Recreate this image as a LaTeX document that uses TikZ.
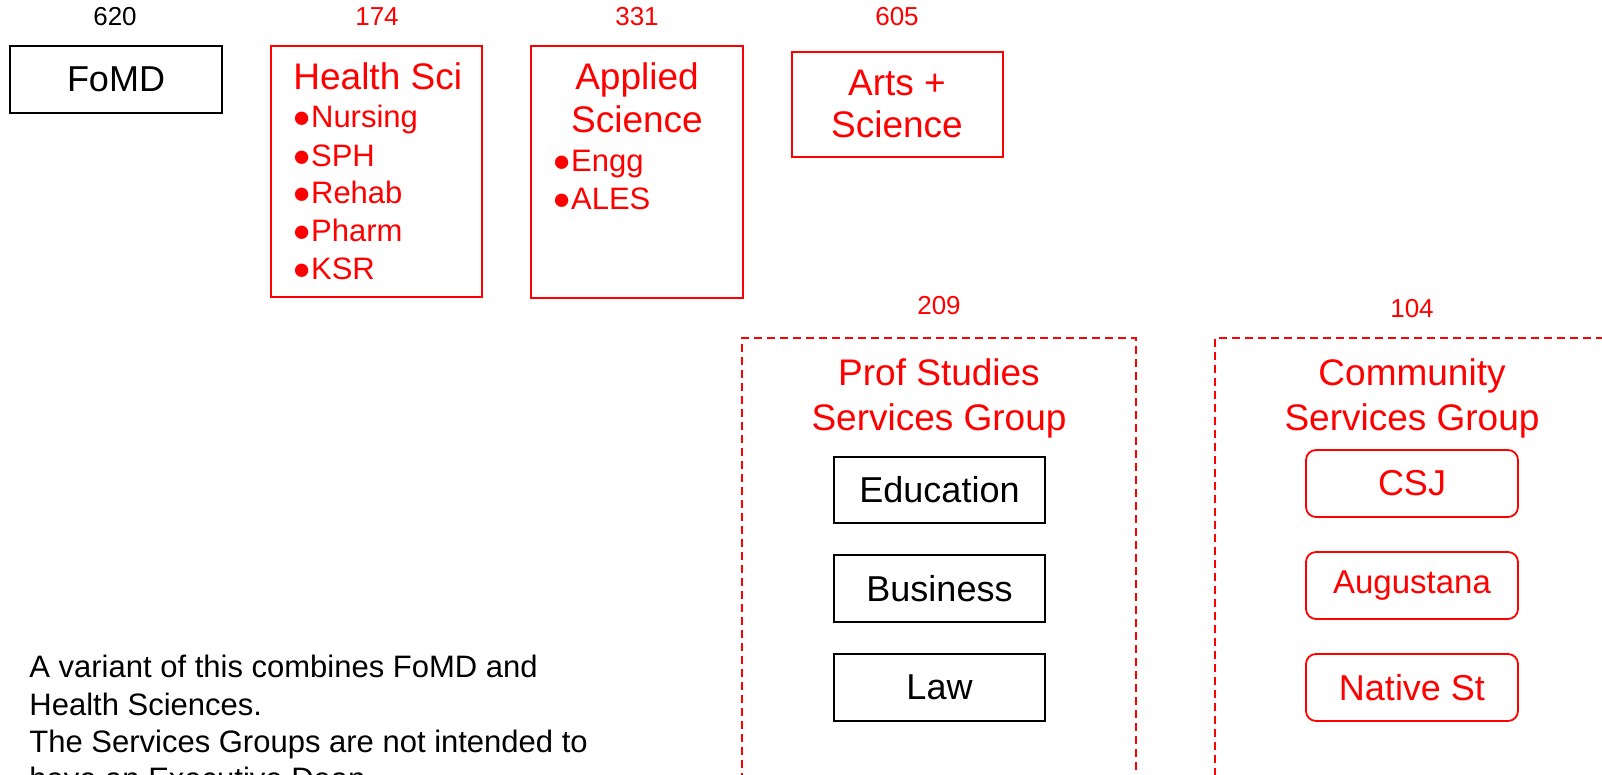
\documentclass[tikz,border=0pt]{standalone}
\usepackage{fontspec}
\setmainfont{Liberation Sans}
\begin{document}
\begin{tikzpicture}[x=0.5pt,y=-0.5pt,
  box/.style={draw=black, line width=0.8pt, inner sep=0pt, outer sep=0pt, text=black, font=\fontsize{18}{20}\selectfont},
  redbox/.style={box, draw=red, line width=0.9pt, text=red},
  roundbox/.style={redbox, rounded corners=5pt},
  group/.style={draw=red, line width=0.9pt, dash pattern=on 4pt off 2.5pt, inner sep=0pt},
  num/.style={anchor=base, inner sep=0pt, font=\fontsize{13}{15}\selectfont},
  head/.style={anchor=base, inner sep=0pt, text=red, font=\fontsize{18.5}{20}\selectfont},
  item/.style={anchor=base west, inner sep=0pt, text=red, font=\fontsize{15.5}{18}\selectfont},
  note/.style={anchor=base west, inner sep=0pt, text=black, font=\fontsize{15.5}{18}\selectfont}]
\useasboundingbox (0,0) rectangle (1602,775);
\clip (0,0) rectangle (1602,775);

% numbers
\node[num] (n620) at (115,26) {620};
\node[num, text=red] (n174) at (377,26) {174};
\node[num, text=red] (n331) at (637,26) {331};
\node[num, text=red] (n605) at (897,26) {605};
\node[num, text=red] (n209) at (939,315) {209};
\node[num, text=red] (n104) at (1412,318) {104};

% top row
\node[box, minimum width=106pt, minimum height=33.5pt] (fomd) at (116,79.5) {FoMD};

\node[redbox, minimum width=105.5pt, minimum height=125.5pt] (hs) at (376.5,171.5) {};
\node[head, anchor=base west] (hsT) at (293,90) {Health Sci};
\node[item] (hs1) at (292,128) {●Nursing};
\node[item] (hs2) at (292,166.5) {●SPH};
\node[item] (hs3) at (292,204) {●Rehab};
\node[item] (hs4) at (292,241.5) {●Pharm};
\node[item] (hs5) at (292,280) {●KSR};

\node[redbox, minimum width=106pt, minimum height=126pt] (as) at (637,172) {};
\node[head] (asT1) at (637,90) {Applied};
\node[head] (asT2) at (637,133) {Science};
\node[item] (as1) at (552,172) {●Engg};
\node[item] (as2) at (552,210) {●ALES};

\node[redbox, minimum width=105.5pt, minimum height=52.5pt] (arts) at (897.5,104.5) {};
\node[head] (artsT1) at (897,96) {Arts +};
\node[head] (artsT2) at (897,138) {Science};

% service groups
\node[group, minimum width=197pt, minimum height=240pt] (prof) at (939,578) {};
\node[head] (profT1) at (939,386) {Prof Studies};
\node[head] (profT2) at (939,430) {Services Group};
\node[box, minimum width=105.5pt, minimum height=33pt] (edu) at (939.5,490) {Education};
\node[box, minimum width=105.5pt, minimum height=33.5pt] (bus) at (939.5,588.5) {Business};
\node[box, minimum width=105.5pt, minimum height=33.5pt] (law) at (939.5,687.5) {Law};

\node[group, minimum width=260pt, minimum height=240pt] (comm) at (1475,578) {};
\node[head] (commT1) at (1412,386) {Community};
\node[head] (commT2) at (1412,430) {Services Group};
\node[roundbox, minimum width=106pt, minimum height=33.5pt] (csj) at (1412,483.5) {CSJ};
\node[roundbox, minimum width=106pt, minimum height=33.5pt, font=\fontsize{16.5}{18}\selectfont] (aug) at (1412,585.5) {Augustana};
\node[roundbox, minimum width=106pt, minimum height=33.5pt] (nat) at (1412,687.5) {Native St};

% note
\node[note] (note1) at (29,677) {A variant of this combines FoMD and};
\node[note] (note2) at (29,715) {Health Sciences.};
\node[note] (note3) at (29,752) {The Services Groups are not intended to};
\node[note] (note4) at (29,789) {have an Executive Dean.};
\end{tikzpicture}
\end{document}
